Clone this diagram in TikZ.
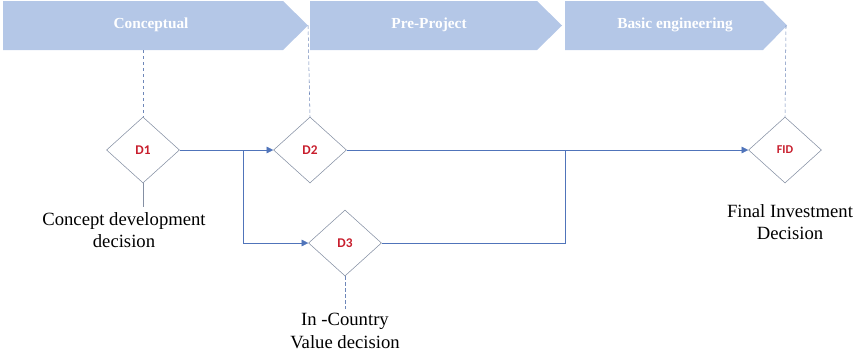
\documentclass[tikz,border=0pt]{standalone}
\usepackage{fontspec}
\setmainfont{Liberation Serif}
\newfontfamily\gatefont{Carlito}
\usetikzlibrary{arrows.meta,shapes.geometric,positioning}

\definecolor{phasebg}{RGB}{180,199,231}
\definecolor{gateline}{RGB}{132,143,163}
\definecolor{gatered}{RGB}{200,30,45}
\definecolor{flowblue}{RGB}{80,116,186}
\definecolor{guidecol}{RGB}{110,135,185}

\tikzset{
  phase/.style={fill=phasebg},
  phaselabel/.style={text=white, font=\fontsize{11.5}{14}\selectfont\bfseries},
  gate/.style={diamond, draw=gateline, fill=white, inner sep=0pt,
    minimum width=54.75pt, minimum height=49.5pt, text=gatered,
    font=\gatefont\fontsize{10}{12}\selectfont\bfseries},
  flow/.style={draw=flowblue, -{Triangle[length=5pt,width=5pt]}},
  guideline/.style={draw=guidecol, dash pattern=on 2.5pt off 2pt},
  caption/.style={align=center, font=\fontsize{14}{17}\selectfont}
}

\begin{document}
\begin{tikzpicture}[x=0.75pt,y=-0.75pt]
\useasboundingbox (0,0) rectangle (856,354);

% phases
\fill[phase] (3,1) -- (283,1) -- (308,25.5) -- (283,50) -- (3,50) -- cycle;
\fill[phase] (310,1) -- (537,1) -- (562,25.5) -- (537,50) -- (310,50) -- cycle;
\fill[phase] (565,1) -- (763,1) -- (787,25.5) -- (763,50) -- (565,50) -- cycle;
\node[phaselabel] (concept) at (151,25) {Conceptual};
\node[phaselabel] (preproj) at (429,25) {Pre-Project};
\node[phaselabel] (basic) at (675,25) {Basic engineering};
\coordinate (c1) at (143,50);
\coordinate (tip1) at (308,25.5);
\coordinate (tip3) at (786,25.5);

% gates
\node[gate] (d1) at (143,150) {D1};
\node[gate] (d2) at (310,150) {D2};
\node[gate] (d3) at (345,243) {D3};
\node[gate, font=\gatefont\fontsize{9}{11}\selectfont\bfseries] (fid) at (785,150) {FID};

\node[caption] (d1cap) at (124,230) {Concept development\\decision};
\node[caption] (d3cap) at (345,331) {In -Country\\Value decision};
\node[caption] (fidcap) at (790,222) {Final Investment\\Decision};

\draw[guideline] (c1) -- (d1.north);
\draw[guideline] (tip1) -- (d2.north);
\draw[guideline] (tip3) -- (fid.north);
\draw[guideline] (d3.south) -- (d3.south |- d3cap.north);
\draw[gateline] (d1.south) -- (d1.south |- d1cap.north);

% flow
\coordinate (j1) at (243,150);
\coordinate (j2) at (565,150);
\draw[flow] (d1.east) -- (d2.west);
\draw[flow] (j1) |- (d3.west);
\draw[flow] (d2.east) -- (fid.west);
\draw[flow, -] (d3.east) -| (j2);
\end{tikzpicture}
\end{document}
